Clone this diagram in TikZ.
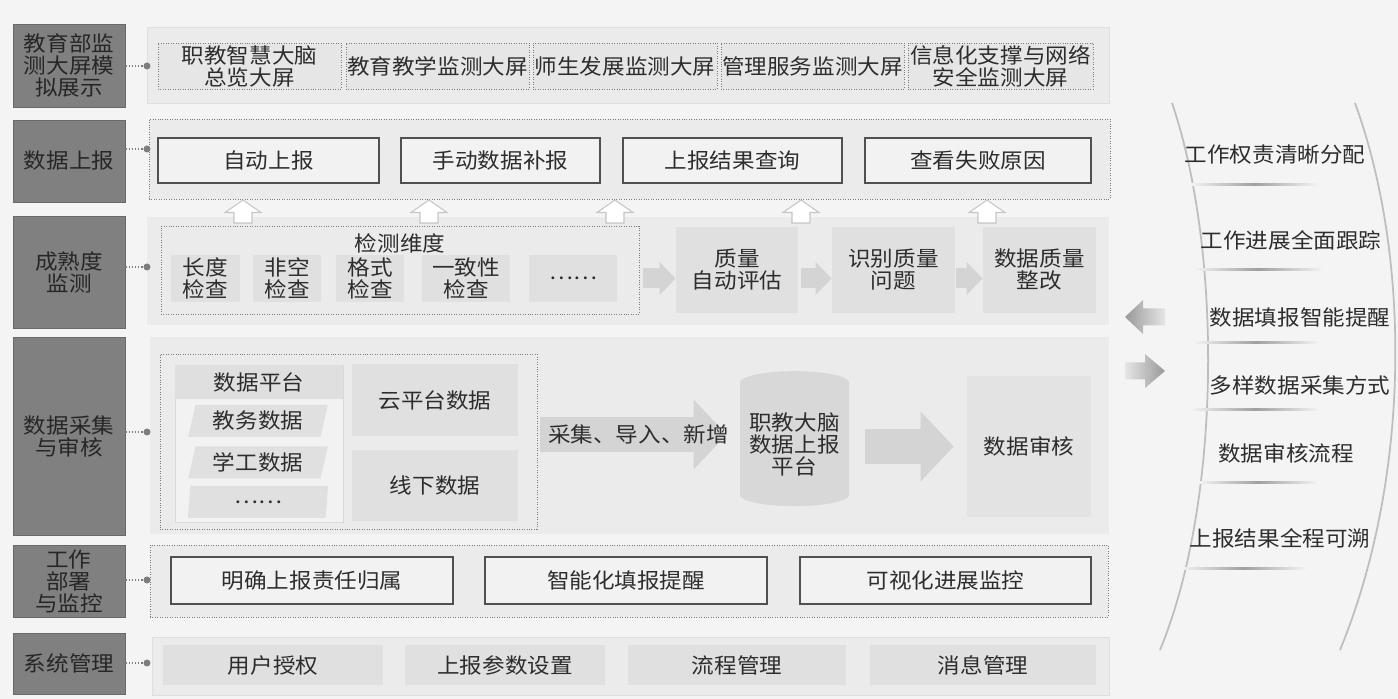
\documentclass[tikz,border=0pt]{standalone}
\usepackage{fontspec}
\setmainfont{Noto Sans CJK SC}[FakeStretch=1.07]
\usepackage{xcolor}
\usepackage{tikz}
\usetikzlibrary{shapes.geometric, arrows.meta, positioning, calc}
\definecolor{bggray}{RGB}{244,244,244}
\definecolor{panelgray}{RGB}{235,235,235}
\definecolor{labelgray}{RGB}{128,128,128}
\definecolor{labelborder}{RGB}{105,105,105}
\definecolor{textgray}{RGB}{45,45,45}
\definecolor{dotgray}{RGB}{125,125,125}
\definecolor{cellgray}{RGB}{224,224,224}
\definecolor{screengray}{RGB}{230,230,230}
\definecolor{framegray}{RGB}{80,80,80}
\definecolor{boxwhite}{RGB}{242,242,242}
\definecolor{arrowgray}{RGB}{212,212,212}
\definecolor{cylgray}{RGB}{216,216,216}
\definecolor{arcgray}{RGB}{190,190,190}
\tikzstyle{sidelabel} = [rectangle, draw=labelborder, fill=labelgray, align=center, inner sep=0pt, text=black!85]
\tikzstyle{panel} = [rectangle, fill=panelgray, inner sep=0pt]
\tikzstyle{dotpanel} = [rectangle, draw=dotgray, densely dotted, fill=panelgray, inner sep=0pt]
\tikzstyle{screenbox} = [rectangle, draw=dotgray, densely dotted, fill=screengray, align=center, inner sep=0pt]
\tikzstyle{reportbox} = [rectangle, draw=framegray, line width=0.7pt, fill=boxwhite, align=center, inner sep=0pt]
\tikzstyle{cell} = [rectangle, fill=cellgray, align=center, inner sep=0pt]
\tikzstyle{slanted} = [trapezium, trapezium left angle=75, trapezium right angle=105, trapezium stretches=true, fill=cellgray, inner sep=0pt]
\tikzstyle{platform} = [cylinder, shape border rotate=90, aspect=0.25, fill=cylgray, align=center, inner sep=0pt]
\tikzstyle{linkdot} = [circle, fill=dotgray, inner sep=0pt, minimum size=0.14cm]
\tikzstyle{dotlink} = [dotgray, densely dotted, thick]
\tikzstyle{flowarrow} = [draw=arrowgray, line width=0.4cm, -{Triangle[length=0.32cm, width=0.64cm]}]
\tikzstyle{bigarrow} = [draw=arrowgray, line width=0.7cm, -{Triangle[length=0.66cm, width=1.36cm]}]
\tikzstyle{hollowup} = [draw=gray!45, fill=white, line width=0.6pt]
\tikzstyle{arcline} = [arcgray, line width=1pt]
\tikzstyle{sepline} = [left color=bggray, right color=bggray, middle color=gray!75]

\begin{document}
\begin{tikzpicture}[every node/.style={font=\fontsize{12}{12.5}\selectfont, text=textgray}]

% ===== BACKGROUND =====
\fill [bggray] (0,0) rectangle (27.96,-13.98);
\useasboundingbox (0,0) rectangle (27.96,-13.98);

% ===== LAYER PANELS =====
\node (pan_screen) [panel, draw=gray!25, minimum width=19.24cm, minimum height=1.52cm] at (12.56,-1.30) {};
\node (pan_report) [dotpanel, minimum width=19.22cm, minimum height=1.60cm] at (12.59,-3.18) {};
\node (pan_check) [panel, minimum width=19.24cm, minimum height=2.16cm] at (12.56,-5.42) {};
\node (pan_collect) [panel, fill=gray!16, minimum width=19.18cm, minimum height=3.94cm] at (12.59,-8.71) {};
\node (pan_deploy) [dotpanel, minimum width=19.16cm, minimum height=1.44cm] at (12.58,-11.62) {};
\node (pan_system) [panel, draw=gray!25, minimum width=19.14cm, minimum height=1.16cm] at (12.61,-13.32) {};

% ===== SIDE LABELS =====
\node (lab_screen) [sidelabel, minimum width=2.24cm, minimum height=1.66cm] at (1.38,-1.31) {教育部监\\测大屏模\\拟展示};
\node (lab_report) [sidelabel, minimum width=2.24cm, minimum height=1.64cm] at (1.38,-3.22) {数据上报};
\node (lab_check) [sidelabel, minimum width=2.24cm, minimum height=2.24cm] at (1.38,-5.44) {成熟度\\监测};
\node (lab_collect) [sidelabel, minimum width=2.24cm, minimum height=3.96cm] at (1.38,-8.72) {数据采集\\与审核};
\node (lab_deploy) [sidelabel, minimum width=2.24cm, minimum height=1.44cm] at (1.38,-11.62) {工作\\部署\\与监控};
\node (lab_system) [sidelabel, minimum width=2.24cm, minimum height=1.22cm] at (1.38,-13.27) {系统管理};

\node (dot_screen) [linkdot] at (2.94,-1.32) {};
\node (dot_report) [linkdot] at (2.94,-2.98) {};
\node (dot_check) [linkdot] at (2.94,-5.34) {};
\node (dot_collect) [linkdot] at (2.94,-8.64) {};
\node (dot_deploy) [linkdot] at (2.94,-11.60) {};
\node (dot_system) [linkdot] at (2.94,-13.26) {};

\draw [dotlink] (lab_screen.east |- dot_screen) -- (dot_screen);
\draw [dotlink] (lab_report.east |- dot_report) -- (dot_report);
\draw [dotlink] (lab_check.east |- dot_check) -- (dot_check);
\draw [dotlink] (lab_collect.east |- dot_collect) -- (dot_collect);
\draw [dotlink] (lab_deploy.east |- dot_deploy) -- (dot_deploy);
\draw [dotlink] (lab_system.east |- dot_system) -- (dot_system);

% ===== SCREENS =====
\node (scr_brain) [screenbox, minimum width=3.66cm, minimum height=0.92cm] at (4.99,-1.32) {职教智慧大脑\\总览大屏};
\node (scr_teach) [screenbox, minimum width=3.66cm, minimum height=0.92cm] at (8.75,-1.32) {教育教学监测大屏};
\node (scr_people) [screenbox, minimum width=3.68cm, minimum height=0.92cm] at (12.50,-1.32) {师生发展监测大屏};
\node (scr_manage) [screenbox, minimum width=3.66cm, minimum height=0.92cm] at (16.25,-1.32) {管理服务监测大屏};
\node (scr_secure) [screenbox, minimum width=3.70cm, minimum height=0.92cm] at (20.01,-1.32) {信息化支撑与网络\\安全监测大屏};

% ===== DATA REPORT =====
\node (rep_auto) [reportbox, minimum width=4.42cm, minimum height=0.90cm] at (5.37,-3.21) {自动上报};
\node (rep_manual) [reportbox, minimum width=3.98cm, minimum height=0.90cm] at (10.01,-3.21) {手动数据补报};
\node (rep_query) [reportbox, minimum width=4.38cm, minimum height=0.90cm] at (14.65,-3.21) {上报结果查询};
\node (rep_fail) [reportbox, minimum width=4.52cm, minimum height=0.90cm] at (19.56,-3.21) {查看失败原因};

% hollow arrows up into the report layer
\draw [hollowup] (4.86,-4.00) -- ++(0.36,-0.25) -- ++(-0.18,0) -- ++(0,-0.21) -- ++(-0.36,0) -- ++(0,0.21) -- ++(-0.18,0) -- cycle;
\draw [hollowup] (8.58,-4.00) -- ++(0.36,-0.25) -- ++(-0.18,0) -- ++(0,-0.21) -- ++(-0.36,0) -- ++(0,0.21) -- ++(-0.18,0) -- cycle;
\draw [hollowup] (12.30,-4.00) -- ++(0.36,-0.25) -- ++(-0.18,0) -- ++(0,-0.21) -- ++(-0.36,0) -- ++(0,0.21) -- ++(-0.18,0) -- cycle;
\draw [hollowup] (16.02,-4.00) -- ++(0.36,-0.25) -- ++(-0.18,0) -- ++(0,-0.21) -- ++(-0.36,0) -- ++(0,0.21) -- ++(-0.18,0) -- cycle;
\draw [hollowup] (19.74,-4.00) -- ++(0.36,-0.25) -- ++(-0.18,0) -- ++(0,-0.21) -- ++(-0.36,0) -- ++(0,0.21) -- ++(-0.18,0) -- cycle;

% ===== MATURITY CHECK =====
\node (grp_dim) [screenbox, fill=none, minimum width=9.56cm, minimum height=1.76cm] at (8.00,-5.40) {};
\node (dim_title) at (8.00,-4.86) {检测维度};
\node (chk_len) [cell, minimum width=1.38cm, minimum height=0.94cm] at (4.11,-5.57) {长度\\检查};
\node (chk_null) [cell, minimum width=1.36cm, minimum height=0.94cm] at (5.74,-5.57) {非空\\检查};
\node (chk_fmt) [cell, minimum width=1.36cm, minimum height=0.94cm] at (7.40,-5.57) {格式\\检查};
\node (chk_same) [cell, minimum width=1.76cm, minimum height=0.94cm] at (9.32,-5.57) {一致性\\检查};
\node (chk_more) [cell, minimum width=1.76cm, minimum height=0.94cm] at (11.46,-5.57) {……};

\node (q_eval) [cell, minimum width=2.44cm, minimum height=1.72cm] at (14.74,-5.40) {质量\\自动评估};
\node (q_find) [cell, minimum width=2.46cm, minimum height=1.72cm] at (17.87,-5.40) {识别质量\\问题};
\node (q_fix) [cell, minimum width=2.26cm, minimum height=1.72cm] at (20.79,-5.40) {数据质量\\整改};

\draw [flowarrow, shorten <=0.08cm] (grp_dim.east |- chk_more) -- (q_eval.west |- chk_more);
\draw [flowarrow, shorten <=0.06cm] (q_eval.east |- chk_more) -- (q_find.west |- chk_more);
\draw [flowarrow, shorten <=0.02cm] (q_find.east |- chk_more) -- (q_fix.west |- chk_more);

% ===== COLLECT AND AUDIT =====
\node (grp_src) [screenbox, fill=none, minimum width=7.54cm, minimum height=3.50cm] at (6.97,-8.83) {};
\node (src_col) [rectangle, draw=gray!30, fill=gray!10, minimum width=3.36cm, minimum height=3.14cm] at (5.18,-8.87) {};
\node (src_head) [cell, fill=gray!25, minimum width=3.36cm, minimum height=0.68cm] at (5.18,-7.64) {数据平台};
\node (src_edu) [slanted, minimum width=2.80cm, minimum height=0.64cm] at (5.16,-8.42) {教务数据};
\node (src_stu) [slanted, minimum width=2.80cm, minimum height=0.64cm] at (5.16,-9.25) {学工数据};
\node (src_more) [slanted, minimum width=2.80cm, minimum height=0.64cm] at (5.16,-10.04) {……};
\node (src_cloud) [cell, minimum width=3.32cm, minimum height=1.44cm] at (8.70,-8.00) {云平台数据};
\node (src_off) [cell, minimum width=3.32cm, minimum height=1.42cm] at (8.70,-9.71) {线下数据};

\node (brain_db) [platform, minimum width=2.18cm, minimum height=2.70cm] at (15.89,-8.89) {职教大脑\\数据上报\\平台};
\node (audit) [cell, fill=gray!22, minimum width=2.48cm, minimum height=2.82cm] at (20.58,-8.93) {数据审核};

\coordinate (flow_in) at (12.70,-8.69);
\draw [bigarrow, shorten <=0.06cm, shorten >=0.26cm] (grp_src.east |- flow_in) -- (brain_db.west |- flow_in) node (flow_text) [midway] {采集、导入、新增};
\draw [bigarrow, shorten <=0.32cm, shorten >=0.26cm] (brain_db.east |- audit.west) -- (audit.west);

% ===== DEPLOY AND MONITOR =====
\node (dep_duty) [reportbox, minimum width=5.64cm, minimum height=0.94cm] at (6.24,-11.61) {明确上报责任归属};
\node (dep_remind) [reportbox, minimum width=5.64cm, minimum height=0.94cm] at (12.52,-11.61) {智能化填报提醒};
\node (dep_view) [reportbox, minimum width=5.82cm, minimum height=0.94cm] at (18.91,-11.61) {可视化进展监控};

% ===== SYSTEM =====
\node (sys_user) [cell, minimum width=4.40cm, minimum height=0.80cm] at (5.46,-13.30) {用户授权};
\node (sys_param) [cell, minimum width=4.00cm, minimum height=0.80cm] at (10.10,-13.30) {上报参数设置};
\node (sys_flow) [cell, minimum width=4.36cm, minimum height=0.80cm] at (14.74,-13.30) {流程管理};
\node (sys_msg) [cell, minimum width=4.52cm, minimum height=0.80cm] at (19.66,-13.30) {消息管理};

% ===== FEATURE BANNER =====
\draw [arcline] (23.44,-2.06) .. controls (24.44,-5.00) and (24.44,-10.00) .. (23.20,-13.00);
\draw [arcline] (27.10,-2.06) .. controls (28.24,-5.20) and (28.20,-9.60) .. (26.80,-13.00);

\node (feat_duty) at (25.50,-3.10) {工作权责清晰分配};
\node (feat_track) at (25.82,-4.80) {工作进展全面跟踪};
\node (feat_remind) at (26.00,-6.34) {数据填报智能提醒};
\node (feat_ways) at (26.00,-7.70) {多样数据采集方式};
\node (feat_audit) at (25.72,-9.06) {数据审核流程};
\node (feat_trace) at (25.60,-10.76) {上报结果全程可溯};

\shade [sepline] (23.80,-3.68) rectangle (26.36,-3.72);
\shade [sepline] (23.86,-5.38) rectangle (26.46,-5.42);
\shade [sepline] (23.86,-6.84) rectangle (26.40,-6.88);
\shade [sepline] (23.80,-8.18) rectangle (26.40,-8.22);
\shade [sepline] (23.96,-9.64) rectangle (26.36,-9.68);
\shade [sepline] (23.60,-11.36) rectangle (26.14,-11.40);

% in / out arrows beside the banner
\shade [left color=gray!80, right color=gray!20] (22.50,-6.34) -- (22.86,-6.00) -- (22.86,-6.17) -- (23.30,-6.17) -- (23.30,-6.51) -- (22.86,-6.51) -- (22.86,-6.68) -- cycle;
\shade [left color=gray!20, right color=gray!80] (23.30,-7.42) -- (22.90,-7.08) -- (22.90,-7.25) -- (22.50,-7.25) -- (22.50,-7.59) -- (22.90,-7.59) -- (22.90,-7.76) -- cycle;

\end{tikzpicture}
\end{document}
